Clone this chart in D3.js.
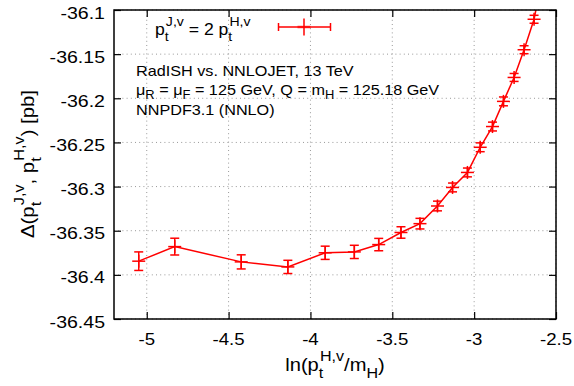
<!DOCTYPE html>
<html>
<head>
<meta charset="utf-8">
<script src="https://cdn.jsdelivr.net/npm/d3@7"></script>
<style>
  body { margin: 0; background: #fff; }
  text { font-family: "Liberation Sans", Arial, sans-serif; fill: #000; }
</style>
</head>
<body>
<svg id="chart" width="574" height="386"></svg>
<script>
// ln(pt/mH) values and Delta [pb]
const xVals = [-5.049, -4.829, -4.423, -4.138, -3.910, -3.732, -3.583, -3.447, -3.331, -3.224,
               -3.132, -3.041, -2.963, -2.888, -2.821, -2.756, -2.695, -2.634, -2.575];
const yVals = [-36.3845, -36.368, -36.3853, -36.391, -36.375, -36.374, -36.3657, -36.352, -36.342, -36.322,
               -36.301, -36.284, -36.2555, -36.232, -36.2035, -36.1764, -36.145, -36.1105, -36.055];
const yErrs = [0.0105, 0.0095, 0.008, 0.0075, 0.0075, 0.0075, 0.007, 0.0065, 0.006, 0.0055,
               0.005, 0.005, 0.005, 0.005, 0.005, 0.0045, 0.0045, 0.0045, 0.0045];

const xTicks = [-5, -4.5, -4, -3.5, -3, -2.5];
const yTicks = [-36.45, -36.4, -36.35, -36.3, -36.25, -36.2, -36.15, -36.1];

// rich text parts: n = normal, sub, sup, st = stacked sub|sup
const legendLabel = [["p", "n"], ["t|J,v", "st"], [" = 2 p", "n"], ["t|H,v", "st"]];
const infoLines = [
    [["RadISH vs. NNLOJET, 13 TeV", "n"]],
    [["μ", "n"], ["R", "sub"], [" = μ", "n"], ["F", "sub"], [" = 125 GeV, Q = m", "n"], ["H", "sub"], [" = 125.18 GeV", "n"]],
    [["NNPDF3.1 (NNLO)", "n"]]
];
const xLabel = [["ln(p", "n"], ["t|H,v", "st"], ["/m", "n"], ["H", "sub"], [")", "n"]];
const yLabel = [["Δ(p", "n"], ["t|J,v", "st"], [", p", "n"], ["t|H,v", "st"], [") [pb]", "n"]];

const L = 114, R = 556, T = 10, B = 319;
const RED = "#ff0000";

const svg = d3.select("#chart");

const x = d3.scaleLinear().domain([-5.2, -2.5]).range([L, R]);
const y = d3.scaleLinear().domain([-36.45, -36.1]).range([B, T]);

function rich(parent, parts, size, subK = 0.38){
    const t = parent.append("text").style("font-size", size + "px");
    const small = size * 0.8;
    const dSub = size * subK, dSup = -size * 0.55;
    let shift = 0;
    parts.forEach(([s, k]) => {
        if (k === "n"){
            t.append("tspan").attr("dy", -shift).style("font-size", size + "px").text(s);
            shift = 0;
        } else if (k === "sub"){
            t.append("tspan").attr("dy", dSub - shift).style("font-size", small + "px").text(s);
            shift = dSub;
        } else if (k === "sup"){
            t.append("tspan").attr("dy", dSup - shift).style("font-size", small + "px").text(s);
            shift = dSup;
        } else {
            const [a, b] = s.split("|");
            const ts = t.append("tspan").attr("dy", dSub - shift).style("font-size", small + "px").text(a);
            const w = ts.node().getComputedTextLength();
            t.append("tspan").attr("dx", -w + 1).attr("dy", dSup - dSub)
                .style("font-size", small + "px").text(b);
            shift = dSup;
        }
    });
    return t;
}

// grid
const grid = svg.append("g")
    .attr("stroke", "#999")
    .attr("stroke-width", 1)
    .attr("stroke-dasharray", "1,3.2");
grid.selectAll(".gx").data(xTicks).enter().append("line")
    .attr("x1", d => x(d)).attr("x2", d => x(d))
    .attr("y1", B).attr("y2", T);
grid.selectAll(".gy").data(yTicks).enter().append("line")
    .attr("x1", L).attr("x2", R)
    .attr("y1", d => y(d)).attr("y2", d => y(d));

// axes: tick marks inward on all four sides, labels drawn below
function styleAxis(g){
    g.select(".domain").remove();
    g.selectAll(".tick line").attr("stroke", "#000").attr("stroke-width", 1.2);
    g.selectAll(".tick text").remove();
}
svg.append("g").attr("transform", `translate(0,${B})`)
    .call(d3.axisBottom(x).tickValues(xTicks).tickSizeInner(-7).tickSizeOuter(0))
    .call(styleAxis);
svg.append("g").attr("transform", `translate(${L},0)`)
    .call(d3.axisLeft(y).tickValues(yTicks).tickSizeInner(-7).tickSizeOuter(0))
    .call(styleAxis);
svg.append("g").attr("transform", `translate(0,${T})`)
    .call(d3.axisTop(x).tickValues(xTicks).tickSizeInner(-7).tickSizeOuter(0))
    .call(styleAxis);
svg.append("g").attr("transform", `translate(${R},0)`)
    .call(d3.axisRight(y).tickValues(yTicks).tickSizeInner(-7).tickSizeOuter(0))
    .call(styleAxis);

// tick labels
svg.append("g").selectAll("g").data(xTicks).enter().append("g")
    .attr("transform", d => `translate(${x(d)},345) scale(1.13,1)`)
    .append("text").attr("text-anchor", "middle").style("font-size", "16.5px")
    .text(d => String(d));
svg.append("g").selectAll("g").data(yTicks).enter().append("g")
    .attr("transform", d => `translate(105,${y(d) + 8.5}) scale(1.15,1)`)
    .append("text").attr("text-anchor", "end").style("font-size", "17px")
    .text(d => String(d));

// data
svg.append("clipPath").attr("id", "clip")
    .append("rect").attr("x", L).attr("y", T).attr("width", R - L).attr("height", B - T);

const pts = xVals.map((v, i) => ({x: v, y: yVals[i], e: yErrs[i]}));
const plot = svg.append("g").attr("clip-path", "url(#clip)")
    .attr("stroke", RED).attr("stroke-width", 1.5).attr("fill", "none");

plot.append("path")
    .datum(pts)
    .attr("d", d3.line().x(d => x(d.x)).y(d => y(d.y)));

const cap = 4.5, mk = 6.5;
const pg = plot.selectAll(".pt").data(pts).enter().append("g").attr("class", "pt");
pg.append("line")
    .attr("x1", d => x(d.x)).attr("x2", d => x(d.x))
    .attr("y1", d => y(d.y - d.e)).attr("y2", d => y(d.y + d.e));
pg.append("line")
    .attr("x1", d => x(d.x) - cap).attr("x2", d => x(d.x) + cap)
    .attr("y1", d => y(d.y - d.e)).attr("y2", d => y(d.y - d.e));
pg.append("line")
    .attr("x1", d => x(d.x) - cap).attr("x2", d => x(d.x) + cap)
    .attr("y1", d => y(d.y + d.e)).attr("y2", d => y(d.y + d.e));
pg.append("line")
    .attr("x1", d => x(d.x) - mk).attr("x2", d => x(d.x) + mk)
    .attr("y1", d => y(d.y)).attr("y2", d => y(d.y));
pg.append("line")
    .attr("x1", d => x(d.x)).attr("x2", d => x(d.x))
    .attr("y1", d => y(d.y) - mk).attr("y2", d => y(d.y) + mk);

// frame
svg.append("rect")
    .attr("x", L).attr("y", T).attr("width", R - L).attr("height", B - T)
    .attr("fill", "none").attr("stroke", "#000").attr("stroke-width", 1.5);

// legend
const lg = svg.append("g").attr("stroke", RED).attr("stroke-width", 1.5);
const lx1 = 278.5, lx2 = 330.5, ly = 27, lc = 304;
lg.append("line").attr("x1", lx1).attr("x2", lx2).attr("y1", ly).attr("y2", ly);
lg.append("line").attr("x1", lx1).attr("x2", lx1).attr("y1", ly - 4).attr("y2", ly + 4);
lg.append("line").attr("x1", lx2).attr("x2", lx2).attr("y1", ly - 4).attr("y2", ly + 4);
lg.append("line").attr("x1", lc).attr("x2", lc).attr("y1", ly - 8.5).attr("y2", ly + 8.5);
lg.append("line").attr("x1", lc - mk).attr("x2", lc + mk).attr("y1", ly).attr("y2", ly)
    .attr("stroke-width", 2.5).attr("stroke-opacity", 0.7);

const lt = svg.append("g").attr("transform", "translate(155,35) scale(1.08,1)");
rich(lt, legendLabel, 16.3);

// info text
const infoY = [76, 95, 115];
infoLines.forEach((parts, i) => {
    const g = svg.append("g").attr("transform", `translate(136,${infoY[i]}) scale(1.08,1)`);
    rich(g, parts, 15, 0.24);
});

// axis titles
const xt = svg.append("g").attr("transform", "translate(335,371) scale(1.15,1)");
rich(xt, xLabel, 17.5).attr("text-anchor", "middle");

const yt = svg.append("g").attr("transform", "translate(34,164) rotate(-90) scale(1.13,1)");
rich(yt, yLabel, 18).attr("text-anchor", "middle");
</script>
</body>
</html>
